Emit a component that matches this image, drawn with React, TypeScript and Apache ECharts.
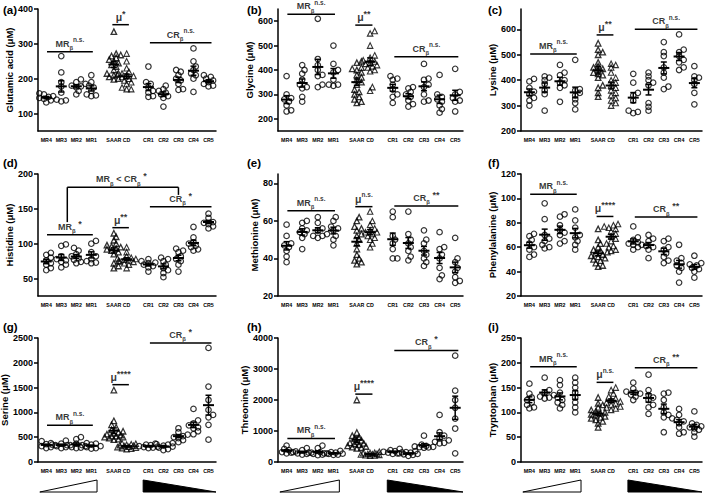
import { useEffect, useRef } from 'react';
import * as echarts from 'echarts';

const categories = ['MR4', 'MR3', 'MR2', 'MR1', 'SAAR', 'CD', 'CR1', 'CR2', 'CR3', 'CR4', 'CR5'];

const glutamicAcid = [
  [132, 138, 142, 145, 148, 150, 155, 158],
  [265, 218, 190, 178, 160, 140, 138, 135],
  [198, 190, 185, 180, 178, 175, 165, 155],
  [210, 190, 180, 175, 165, 155, 152, 150],
  [335, 272, 268, 265, 260, 255, 250, 245, 240, 235, 225, 215, 215, 210, 205, 200, 198],
  [272, 250, 230, 220, 215, 212, 210, 208, 205, 200, 195, 190, 185, 175, 170, 170],
  [235, 190, 185, 175, 165, 160, 150, 148],
  [180, 170, 165, 160, 155, 150, 145, 120],
  [225, 220, 210, 200, 195, 185, 170, 168],
  [287, 250, 235, 225, 215, 210, 200, 162],
  [210, 205, 200, 195, 190, 185, 180, 178],
];
const glycine = [
  [375, 300, 285, 280, 270, 255, 235, 230],
  [420, 400, 385, 360, 340, 330, 325, 290, 270],
  [610, 445, 420, 400, 380, 375, 340, 330],
  [500, 425, 400, 390, 360, 340, 335, 340],
  [435, 430, 410, 405, 400, 390, 380, 370, 360, 350, 340, 320, 310, 300, 290, 280, 270, 265],
  [560, 550, 500, 460, 450, 440, 435, 430, 425, 420, 415, 410, 400, 395, 330, 315],
  [375, 365, 360, 340, 320, 300, 290, 265],
  [330, 325, 310, 300, 290, 275, 260, 250],
  [425, 365, 360, 340, 330, 300, 275, 270],
  [380, 300, 290, 280, 270, 255, 240, 225],
  [405, 310, 300, 285, 275, 270, 230],
];
const lysine = [
  [405, 395, 370, 355, 345, 330, 320, 300],
  [415, 410, 400, 385, 360, 345, 280],
  [460, 430, 420, 400, 390, 380, 370, 315],
  [480, 365, 360, 350, 340, 325, 310, 285],
  [545, 520, 510, 500, 470, 455, 450, 445, 440, 430, 425, 420, 410, 380, 370, 350, 335],
  [465, 460, 450, 430, 410, 400, 390, 380, 370, 360, 350, 340, 330, 320, 310, 300],
  [425, 390, 350, 340, 320, 280, 275, 270],
  [430, 415, 400, 390, 380, 310, 295, 280],
  [550, 510, 495, 450, 430, 410, 375, 365],
  [580, 520, 510, 495, 480, 470, 450, 440],
  [455, 415, 410, 400, 385, 350, 305],
];
const histidine = [
  [87, 84, 80, 76, 72, 70, 65, 62],
  [99, 97, 82, 78, 76, 74, 70, 66],
  [94, 90, 85, 82, 79, 77, 74, 72],
  [104, 100, 88, 82, 78, 75, 73, 72],
  [115, 110, 105, 100, 98, 96, 95, 93, 92, 90, 88, 85, 75, 72, 68, 65],
  [95, 88, 82, 80, 79, 78, 77, 76, 75, 74, 72, 70, 65],
  [78, 75, 73, 72, 70, 68, 66, 60],
  [80, 78, 75, 70, 65, 62, 58, 52],
  [93, 90, 88, 82, 78, 75, 70, 60],
  [124, 109, 102, 100, 97, 95, 92, 90],
  [143, 137, 133, 131, 130, 128, 125, 122],
];
const methionine = [
  [58, 52, 48, 47, 46, 44, 41, 38],
  [60, 59, 56, 55, 54, 53, 51, 45],
  [62, 59, 56, 55, 53, 52, 52, 51],
  [62, 60, 57, 56, 55, 52, 50, 47],
  [62, 60, 57, 56, 55, 53, 52, 50, 48, 45, 42, 40, 39, 38, 37],
  [65, 60, 58, 56, 55, 54, 54, 53, 52, 51, 50, 48, 46],
  [65, 62, 52, 50, 48, 45, 40, 40],
  [65, 53, 50, 48, 46, 44, 41, 39],
  [55, 50, 48, 44, 42, 40, 38, 36],
  [54, 46, 45, 42, 40, 35, 31, 29],
  [51, 40, 38, 35, 33, 30, 28, 27],
];
const phenylalanine = [
  [71, 69, 66, 63, 60, 58, 54, 52],
  [96, 83, 70, 67, 65, 62, 60, 59],
  [87, 85, 78, 74, 72, 70, 65, 63],
  [91, 82, 76, 70, 68, 65, 62, 58],
  [75, 66, 63, 60, 58, 57, 56, 55, 54, 53, 52, 51, 50, 49, 47, 45, 44],
  [79, 78, 77, 76, 75, 73, 71, 69, 67, 65, 63, 61, 60, 58, 57],
  [77, 68, 66, 64, 63, 62, 60, 58],
  [70, 67, 65, 62, 61, 60, 58, 51],
  [67, 65, 60, 58, 55, 52, 49, 47],
  [62, 51, 49, 47, 45, 43, 40, 31],
  [53, 47, 46, 45, 43, 42, 40, 35],
];
const serine = [
  [420, 380, 360, 350, 340, 320, 300, 280],
  [430, 370, 350, 340, 320, 300, 280],
  [500, 460, 370, 340, 320, 300, 290, 280],
  [380, 370, 350, 340, 320, 300, 280, 270],
  [1450, 830, 750, 700, 650, 620, 600, 580, 560, 540, 520, 520, 500, 500, 480, 460, 450],
  [380, 370, 360, 350, 340, 330, 320, 310, 300, 290, 280, 270, 260],
  [370, 350, 340, 320, 310, 300, 290, 280],
  [380, 360, 350, 330, 310, 290, 260, 240],
  [680, 600, 550, 520, 500, 480, 440, 400],
  [1070, 840, 780, 740, 700, 680, 620, 560],
  [2300, 1520, 1250, 1050, 950, 900, 750, 450],
];
const threonine = [
  [530, 420, 380, 360, 340, 320, 300, 280],
  [450, 380, 320, 300, 280, 260, 240],
  [530, 450, 320, 300, 280, 260, 240, 220],
  [360, 320, 300, 280, 270, 260, 240, 230],
  [2000, 950, 850, 800, 750, 700, 650, 620, 600, 580, 560, 520, 500, 480, 460, 440],
  [330, 300, 290, 280, 270, 260, 250, 240, 230, 220, 210, 200],
  [420, 380, 350, 330, 310, 300, 280, 260],
  [350, 320, 300, 280, 260, 250, 230, 200],
  [850, 560, 520, 500, 490, 480, 470, 460],
  [1520, 960, 850, 760, 700, 650, 620, 600],
  [3430, 2300, 2000, 1750, 1400, 1080, 280],
];
const tryptophan = [
  [158, 138, 130, 125, 120, 115, 110, 108],
  [170, 145, 140, 135, 132, 130, 128],
  [165, 155, 140, 130, 125, 120, 115, 108],
  [170, 160, 150, 140, 130, 120, 110, 100],
  [130, 118, 115, 110, 105, 102, 100, 98, 96, 94, 92, 90, 88, 85, 82, 78, 70],
  [150, 145, 138, 132, 128, 125, 122, 120, 118, 115, 112, 110, 108, 105],
  [160, 148, 142, 140, 138, 136, 132, 125],
  [176, 145, 135, 130, 125, 115, 110, 97],
  [140, 138, 125, 110, 100, 95, 90, 60],
  [107, 95, 88, 85, 82, 78, 70, 60, 57],
  [102, 78, 75, 72, 70, 68, 65, 60, 51],
];

const glutamicTicks = [100, 200, 300, 400];
const glycineTicks = [200, 300, 400, 500, 600];
const lysineTicks = [200, 300, 400, 500, 600];
const histidineTicks = [50, 100, 150, 200];
const methionineTicks = [20, 40, 60, 80];
const phenylalanineTicks = [20, 40, 60, 80, 100, 120];
const serineTicks = [0, 500, 1000, 1500, 2000, 2500];
const threonineTicks = [0, 1000, 2000, 3000, 4000];
const tryptophanTicks = [0, 50, 100, 150, 200, 250];

const mrSig = ['n.s.', 'n.s.', 'n.s.', '*', 'n.s.', 'n.s.', 'n.s.', 'n.s.', 'n.s.'];
const muSig = ['*', '**', '**', '**', 'n.s.', '****', '****', '****', 'n.s.'];
const crSig = ['n.s.', 'n.s.', 'n.s.', '*', '**', '**', '*', '*', '**'];

// ---- layout (not data) ----
const catPos = [0, 1, 2, 3, 4.5, 5.35, 6.8, 7.8, 8.8, 9.8, 10.8];
const X_MIN = -0.55;
const X_MAX = 11.3;
const colLeft = [38, 278, 521];
const colRight = [216, 463, 702];
const rowTop = [9, 174, 338];
const rowBottom = [131, 296, 462];
const FF = '"Liberation Sans", Arial, Helvetica, sans-serif';

const panels = [
  { tag: '(a)', name: 'Glutamic acid (\u03bcM)', data: glutamicAcid, min: 50, max: 400, ticks: glutamicTicks, gap: 22, mrY: 277, muY: 355, crY: 303 },
  { tag: '(b)', name: 'Glycine (\u03bcM)', data: glycine, min: 150, max: 650, ticks: glycineTicks, gap: 20, mrY: 628, muY: 584, crY: 454 },
  { tag: '(c)', name: 'Lysine (\u03bcM)', data: lysine, min: 200, max: 680, ticks: lysineTicks, gap: 20, mrY: 503, muY: 578, crY: 600 },
  { tag: '(d)', name: 'Histidine (\u03bcM)', data: histidine, min: 25, max: 200, ticks: histidineTicks, gap: 21, mrY: 113, muY: 123, crY: 153 },
  { tag: '(e)', name: 'Methionine (\u03bcM)', data: methionine, min: 20, max: 85, ticks: methionineTicks, gap: 17, mrY: 65.4, muY: 67.6, crY: 68 },
  { tag: '(f)', name: 'Phenylalanine (\u03bcM)', data: phenylalanine, min: 20, max: 120, ticks: phenylalanineTicks, gap: 22, mrY: 103.4, muY: 85.2, crY: 84.7 },
  { tag: '(g)', name: 'Serine (\u03bcM)', data: serine, min: 0, max: 2500, ticks: serineTicks, gap: 22, mrY: 739, muY: 1559, crY: 2400 },
  { tag: '(h)', name: 'Threonine (\u03bcM)', data: threonine, min: 0, max: 4000, ticks: threonineTicks, gap: 22, mrY: 759, muY: 2190, crY: 3600 },
  { tag: '(i)', name: 'Tryptophan (\u03bcM)', data: tryptophan, min: 0, max: 250, ticks: tryptophanTicks, gap: 20, mrY: 192, muY: 160.6, crY: 190 },
];

function swarm(values: number[], center: number, pxPerX: number, pxPerY: number) {
  const idx = values.map((_, i) => i).sort((a, b) => values[a] - values[b]);
  const placed: { x: number; y: number }[] = [];
  const res: number[][] = [];
  const D = 3.8;
  const STEP = 2.3;
  idx.forEach((i) => {
    const y = values[i] * pxPerY;
    let off = 0;
    let bestCost = Infinity;
    for (let k = 0; k < 9; k++) {
      const cand = k === 0 ? 0 : (k % 2 ? 1 : -1) * Math.ceil(k / 2) * STEP;
      const ok = placed.every((q) => (q.x - cand) ** 2 + (q.y - y) ** 2 >= D * D);
      if (ok) { off = cand; bestCost = 0; break; }
      const minD = Math.min(...placed.map((q) => (q.x - cand) ** 2 + (q.y - y) ** 2));
      const cost = -minD;
      if (cost < bestCost) { bestCost = cost; off = cand; }
    }
    placed.push({ x: off, y });
    res.push([center + off / pxPerX, values[i]]);
  });
  return res;
}

function meanSem(v: number[]) {
  const n = v.length;
  const m = v.reduce((a, b) => a + b, 0) / n;
  const sd = Math.sqrt(v.reduce((a, b) => a + (b - m) ** 2, 0) / (n - 1));
  return [m, sd / Math.sqrt(n)];
}

function sigFmt(main: string, sub: boolean, sig: string, starSpace: boolean) {
  const head = main === 'u' ? '{u|\u03bc}' : `{m|${main}}` + (sub ? '{b|\u03b2}' : '');
  if (sig === 'n.s.') return head + '{n|n.s.}';
  return head + `{st|${starSpace ? ' ' : ''}${sig}}`;
}

const tok = { fontWeight: 'bold', fontFamily: FF, color: '#000', textBorderWidth: 0, textShadowBlur: 0 };
const rich = {
  m: { ...tok, fontSize: 9, lineHeight: 15, verticalAlign: 'middle' },
  u: { ...tok, fontSize: 10.5, lineHeight: 15, verticalAlign: 'middle' },
  b: { ...tok, fontSize: 6, lineHeight: 6, verticalAlign: 'bottom' },
  n: { ...tok, fontSize: 6.5, lineHeight: 6, verticalAlign: 'top' },
  st: { ...tok, fontSize: 9, lineHeight: 9, verticalAlign: 'top' },
};

function buildOption() {
  const grid: any[] = [];
  const xAxis: any[] = [];
  const yAxis: any[] = [];
  const series: any[] = [];
  const graphic: any[] = [];

  panels.forEach((p, i) => {
    const col = i % 3;
    const row = Math.floor(i / 3);
    const w = colRight[col] - colLeft[col];
    const h = rowBottom[row] - rowTop[row];
    const pxPerX = w / (X_MAX - X_MIN);
    const pxPerY = h / (p.max - p.min);

    grid.push({ left: colLeft[col], top: rowTop[row], width: w, height: h, containLabel: false, outerBoundsMode: 'none' });
    xAxis.push({
      type: 'value', gridIndex: i, min: X_MIN, max: X_MAX,
      axisLine: { show: true, onZero: false, lineStyle: { color: '#000', width: 1.5 } },
      axisTick: { show: false }, splitLine: { show: false },
      axisLabel: {
        customValues: catPos,
        formatter: (v: number) => {
          let best = 0;
          catPos.forEach((c, j) => { if (Math.abs(c - v) < Math.abs(catPos[best] - v)) best = j; });
          return categories[best];
        },
        fontSize: 5.3, fontWeight: 'bold', color: '#000', fontFamily: FF, margin: 6.5, hideOverlap: false,
      },
    });
    yAxis.push({
      type: 'value', gridIndex: i, min: p.min, max: p.max,
      name: p.name, nameLocation: 'middle', nameGap: p.gap, nameRotate: 90,
      nameTextStyle: { fontSize: 9.5, fontWeight: 'bold', color: '#000', fontFamily: FF },
      axisLine: { show: true, onZero: false, lineStyle: { color: '#000', width: 1.5 } },
      axisTick: { show: true, customValues: p.ticks, length: 4, lineStyle: { color: '#000', width: 1.5 } },
      axisLabel: {
        customValues: p.ticks, formatter: (v: number) => String(v),
        fontSize: 9, fontWeight: 'bold', color: '#000', fontFamily: FF, margin: 5,
      },
      splitLine: { show: false },
    });

    const circles: number[][] = [];
    const saar: number[][] = [];
    const cd: number[][] = [];
    p.data.forEach((vals, j) => {
      const pts = swarm(vals, catPos[j], pxPerX, pxPerY);
      if (j === 4) saar.push(...pts);
      else if (j === 5) cd.push(...pts);
      else circles.push(...pts);
    });

    const common = { xAxisIndex: i, yAxisIndex: i, silent: true };
    series.push({
      ...common, type: 'scatter', data: circles, symbol: 'circle', symbolSize: 5.5,
      itemStyle: { color: 'rgba(255,255,255,0)', borderColor: '#000', borderWidth: 1.2 }, z: 2,
    });
    series.push({
      ...common, type: 'scatter', data: saar, symbol: 'triangle', symbolSize: 5.5,
      itemStyle: { color: 'rgba(255,255,255,0)', borderColor: '#000', borderWidth: 1.3 }, z: 2,
    });
    series.push({
      ...common, type: 'scatter', data: cd, symbol: 'triangle', symbolSize: 5.5,
      itemStyle: { color: 'rgba(255,255,255,0)', borderColor: '#000', borderWidth: 1.1 }, z: 2,
    });

    const stats = p.data.map((vals, j) => [catPos[j], ...meanSem(vals)]);
    series.push({
      ...common, type: 'custom', data: stats, z: 5, clip: false,
      encode: { x: 0, y: 1 },
      renderItem: (_: any, api: any) => {
        const x = api.value(0), m = api.value(1), s = api.value(2);
        const c = api.coord([x, m]);
        const t = api.coord([x, m + s]);
        const b = api.coord([x, m - s]);
        const st = { stroke: '#000', lineWidth: 1.5 };
        return {
          type: 'group',
          children: [
            { type: 'line', shape: { x1: c[0] - 5.5, y1: c[1], x2: c[0] + 5.5, y2: c[1] }, style: { stroke: '#000', lineWidth: 2 } },
            { type: 'line', shape: { x1: c[0], y1: t[1], x2: c[0], y2: b[1] }, style: st },
            { type: 'line', shape: { x1: c[0] - 3, y1: t[1], x2: c[0] + 3, y2: t[1] }, style: st },
            { type: 'line', shape: { x1: c[0] - 3, y1: b[1], x2: c[0] + 3, y2: b[1] }, style: st },
          ],
        };
      },
    });

    // significance lines
    const segs: number[][] = [
      [0.05, p.mrY, 3.1, p.mrY],
      [4.4, p.muY, 5.5, p.muY],
      [6.9, p.crY, 11.0, p.crY],
    ];
    const labels: any[] = [
      { value: [1.57, p.mrY], label: { formatter: sigFmt('MR', true, mrSig[i], true) } },
      { value: [4.95, p.muY], label: { formatter: sigFmt('u', false, muSig[i], false) } },
      { value: [8.95, p.crY], label: { formatter: sigFmt('CR', true, crSig[i], true) } },
    ];
    if (i === 3) {
      segs.push([1.4, 181, 8.8, 181], [1.4, 181, 1.4, 131], [8.8, 181, 8.8, 170]);
      labels.push({ value: [5.0, 181], label: { formatter: '{m|MR}{b|\u03b2}{m| < CR}{b|\u03b2}{st| *}' } });
    }
    series.push({
      ...common, type: 'custom', data: segs, z: 4, clip: false,
      encode: { x: [0, 2], y: [1, 3] },
      renderItem: (_: any, api: any) => {
        const a = api.coord([api.value(0), api.value(1)]);
        const b = api.coord([api.value(2), api.value(3)]);
        return { type: 'line', shape: { x1: a[0], y1: a[1], x2: b[0], y2: b[1] }, style: { stroke: '#000', lineWidth: 1.5 } };
      },
    });
    series.push({
      ...common, type: 'scatter', data: labels, symbol: 'circle', symbolSize: 1, z: 6,
      itemStyle: { color: 'rgba(0,0,0,0)' },
      label: {
        show: true, position: 'top', distance: 0, color: '#000', fontFamily: FF,
        textBorderWidth: 0, textShadowBlur: 0, rich,
      },
    });

    if (row === 2) {
      series.push({
        ...common, type: 'custom', data: [[0, p.min]], z: 4, clip: false,
        encode: { x: 0, y: 1 },
        renderItem: (_: any, api: any) => {
          const yb = api.coord([0, p.min])[1];
          const wl = api.coord([-0.43, p.min])[0];
          const wr = api.coord([3.38, p.min])[0];
          const bl = api.coord([6.45, p.min])[0];
          const br = api.coord([X_MAX, p.min])[0];
          return {
            type: 'group',
            children: [
              { type: 'polygon', shape: { points: [[wl, yb + 30], [wr, yb + 18], [wr, yb + 30]] }, style: { fill: '#fff', stroke: '#000', lineWidth: 1 } },
              { type: 'polygon', shape: { points: [[bl, yb + 18], [bl, yb + 30], [br, yb + 30]] }, style: { fill: '#000', stroke: '#000', lineWidth: 1 } },
            ],
          };
        },
      });
    }

    const tagX = [3, 247, 488][col];
    const tagY = [10, 163, 327][row];
    graphic.push({
      type: 'text', x: tagX, y: tagY, silent: true,
      style: { text: p.tag, fill: '#000', font: `bold 11.5px ${FF}`, verticalAlign: 'middle' },
    });
  });

  return {
    animation: false,
    backgroundColor: '#fff',
    textStyle: { fontFamily: FF },
    grid, xAxis, yAxis, series, graphic,
  };
}

export default function App() {
  const ref = useRef<HTMLDivElement>(null);
  useEffect(() => {
    if (!ref.current) return;
    const chart = echarts.init(ref.current, null, { renderer: 'svg' });
    chart.setOption(buildOption() as any);
    return () => chart.dispose();
  }, []);
  return <div ref={ref} style={{ width: 709, height: 495, position: 'absolute', left: 0, top: 0 }} />;
}
